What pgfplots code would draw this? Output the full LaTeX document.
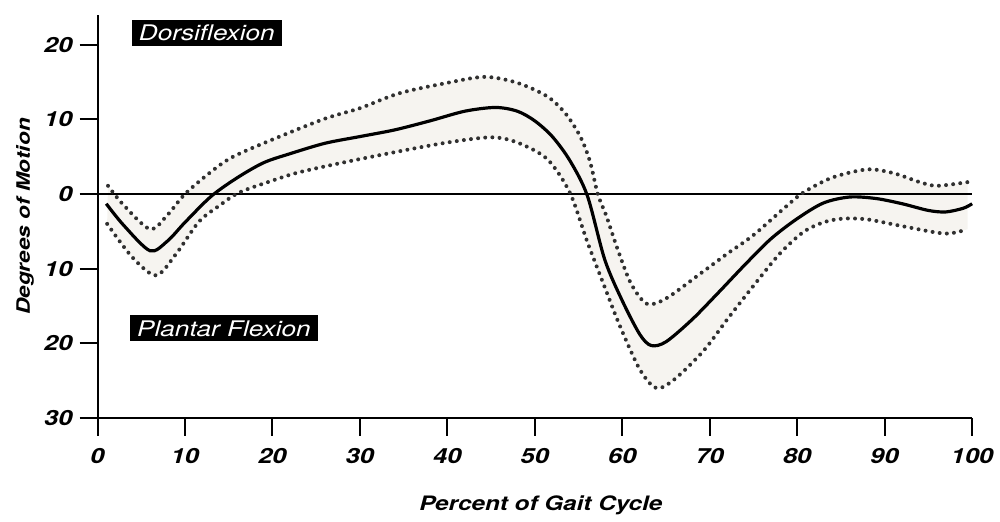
\documentclass[border=0pt]{standalone}
\usepackage{fontspec}
\setmainfont[FakeStretch=1.22]{TeX Gyre Heros}
\usepackage{pgfplots}
\pgfplotsset{compat=1.18}
\usepgfplotslibrary{fillbetween}
\definecolor{bandfill}{HTML}{F6F4F0}
\definecolor{dotcol}{HTML}{303030}
\begin{document}
\begin{tikzpicture}
\begin{axis}[
  at={(49pt,50pt)}, anchor=south west,
  scale only axis, width=439.5pt, height=202.5pt,
  xmin=0, xmax=100, ymin=-30, ymax=24,
  axis lines*=left,
  axis line style={line width=1pt},
  tick align=outside,
  major tick length=9pt,
  tick style={line width=1pt, black},
  xtick={0,10,20,30,40,50,60,70,80,90,100},
  xticklabels={0,10,20,30,40,50,60,70,80,90,100},
  ytick={-30,-20,-10,0,10,20},
  yticklabels={30,20,10,0,10,20},
  tick label style={font=\fontsize{10.5}{12}\selectfont\bfseries\itshape},
  xticklabel style={yshift=-3pt},
  xlabel={Percent of Gait Cycle},
  ylabel={Degrees of Motion},
  every axis x label/.style={at={(axis description cs:0.507,-0.217)}, anchor=center, font=\fontsize{10}{12}\selectfont\bfseries\itshape},
  every axis y label/.style={at={(axis description cs:-0.083,0.5)}, rotate=90, anchor=center, font=\fontsize{9.3}{11}\selectfont\bfseries\itshape},
  clip=false,
]
\addplot[name path=upper, draw=none, smooth] coordinates {
(1.2,1.1) (3,-1.5) (6,-4.7) (8,-2.8) (10,0) (13,3) (15.5,5) (20,7.3) (26,10.1) (30,11.5) (34.5,13.5) (40,14.9) (44.3,15.7) (48,14.9) (51.4,13.1) (53.5,10.8) (55.2,7.7) (56.3,4.4) (57.2,0) (58.2,-3) (59.5,-7.5) (61,-12) (62.8,-14.7) (65,-14) (69,-10.6) (72,-8) (75,-5.5) (78.7,-1.7) (80.7,0.2) (84,2.2) (88,3.3) (91,2.8) (94,1.6) (96,1.1) (99.5,1.6)
};
\addplot[name path=lower, draw=none, smooth] coordinates {
(1.1,-4) (4,-8.5) (6.7,-10.9) (9,-8) (11.6,-3.7) (14,-1.5) (16.2,0.2) (20,1.8) (23,2.9) (28,4.2) (34.4,5.7) (40,6.9) (45,7.6) (48,6.9) (51.4,4.7) (54,0.2) (56,-6.4) (58,-12.5) (59.7,-17.6) (62,-23.5) (63.9,-26) (66,-24.8) (69.3,-21) (72,-16.8) (75,-12.3) (78,-8) (80.7,-5.1) (83,-3.8) (85.2,-3.3) (88,-3.4) (92,-4.3) (96.9,-5.3) (99.5,-4.7)
};
\addplot[bandfill] fill between[of=upper and lower];
\addplot[black, line width=0.9pt] coordinates {(0,0) (100,0)};
\addplot[smooth, dotcol, line width=2pt, line cap=round, dash pattern=on 0pt off 3.6pt] coordinates {
(1.2,1.1) (3,-1.5) (6,-4.7) (8,-2.8) (10,0) (13,3) (15.5,5) (20,7.3) (26,10.1) (30,11.5) (34.5,13.5) (40,14.9) (44.3,15.7) (48,14.9) (51.4,13.1) (53.5,10.8) (55.2,7.7) (56.3,4.4) (57.2,0) (58.2,-3) (59.5,-7.5) (61,-12) (62.8,-14.7) (65,-14) (69,-10.6) (72,-8) (75,-5.5) (78.7,-1.7) (80.7,0.2) (84,2.2) (88,3.3) (91,2.8) (94,1.6) (96,1.1) (99.5,1.6)
};
\addplot[smooth, dotcol, line width=2pt, line cap=round, dash pattern=on 0pt off 3.6pt] coordinates {
(1.1,-4) (4,-8.5) (6.7,-10.9) (9,-8) (11.6,-3.7) (14,-1.5) (16.2,0.2) (20,1.8) (23,2.9) (28,4.2) (34.4,5.7) (40,6.9) (45,7.6) (48,6.9) (51.4,4.7) (54,0.2) (56,-6.4) (58,-12.5) (59.7,-17.6) (62,-23.5) (63.9,-26) (66,-24.8) (69.3,-21) (72,-16.8) (75,-12.3) (78,-8) (80.7,-5.1) (83,-3.8) (85.2,-3.3) (88,-3.4) (92,-4.3) (96.9,-5.3) (99.5,-4.7)
};
\addplot[smooth, black, line width=1.6pt] coordinates {
(1,-1.3) (3,-4.2) (6,-7.6) (8,-6.3) (10,-3.8) (13,-0.3) (16,2.2) (19,4.2) (22,5.4) (26,6.8) (30,7.7) (34,8.6) (38,9.8) (42,11.1) (45.5,11.6) (48,11.1) (50,9.8) (52,7.7) (54,4.5) (56,-0.2) (58,-8.8) (60,-14.3) (62,-18.8) (63.3,-20.3) (65,-19.8) (68,-16.8) (71,-13.2) (74,-9.5) (77,-6) (80,-3.3) (83,-1.2) (86,-0.4) (89,-0.6) (92,-1.3) (95,-2.2) (97,-2.4) (99,-1.9) (100,-1.3)
};
\node[fill=black, text=white, font=\fontsize{10.8}{13}\selectfont\itshape, inner xsep=3.5pt, inner ysep=2.5pt] at (axis cs:12.5,21.6) {Dorsiflexion};
\node[fill=black, text=white, font=\fontsize{10.8}{13}\selectfont\itshape, inner xsep=3.5pt, inner ysep=2.5pt] at (axis cs:14.45,-18) {Plantar Flexion};
\end{axis}
\path (0,0) rectangle (500pt,260pt);
\end{tikzpicture}
\end{document}
